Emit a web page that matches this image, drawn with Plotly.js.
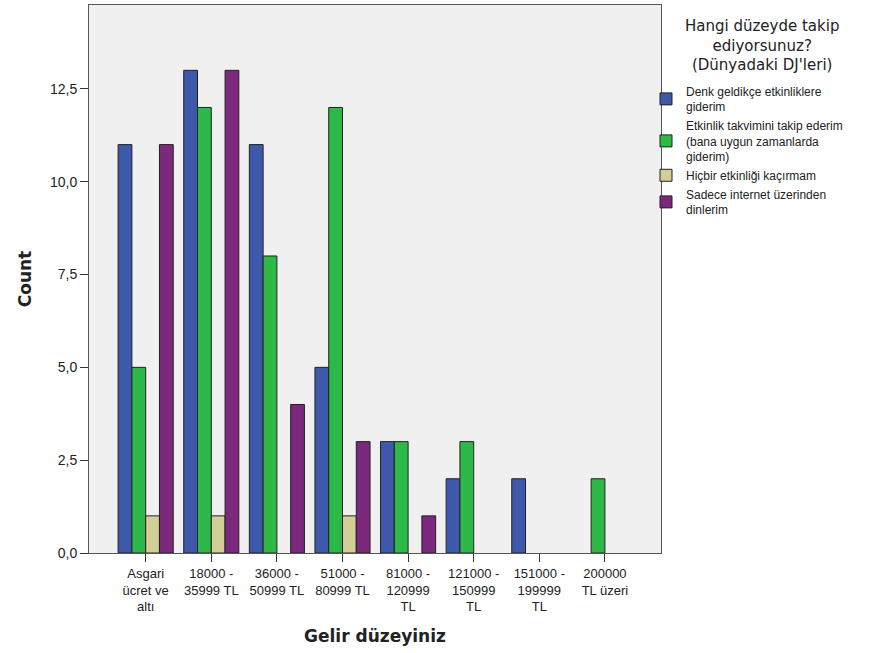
<!DOCTYPE html>
<html>
<head>
<meta charset="utf-8">
<script src="https://cdn.plot.ly/plotly-3.0.1.min.js"></script>
<style>html,body{margin:0;padding:0;background:#fff;}#chart{width:876px;height:653px;}</style>
</head>
<body>
<div id="chart"></div>
<script>
const categories = [
  "Asgari<br>ücret ve<br>altı",
  "18000 -<br>35999 TL",
  "36000 -<br>50999 TL",
  "51000 -<br>80999 TL",
  "81000 -<br>120999<br>TL",
  "121000 -<br>150999<br>TL",
  "151000 -<br>199999<br>TL",
  "200000<br>TL üzeri"
];
const legendTitle = "Hangi düzeyde takip<br>ediyorsunuz?<br>(Dünyadaki DJ'leri)";
const seriesNames = [
  "Denk geldikçe etkinliklere<br>giderim",
  "Etkinlik takvimini takip ederim<br>(bana uygun zamanlarda<br>giderim)",
  "Hiçbir etkinliği kaçırmam",
  "Sadece internet üzerinden<br>dinlerim"
];
const denkGeldikce = [11, 13, 11, 5, 3, 2, 2, 0];
const etkinlikTakvimi = [5, 12, 8, 12, 3, 3, 0, 2];
const hicbirKacirmam = [1, 1, 0, 1, 0, 0, 0, 0];
const sadeceInternet = [11, 13, 4, 3, 1, 0, 0, 0];
const colors = ["#3E58AC", "#2EB848", "#D3CE97", "#7C287D"];
const allSeries = [denkGeldikce, etkinlikTakvimi, hicbirKacirmam, sadeceInternet];

const xIdx = categories.map((c, i) => i);
const traces = allSeries.map((vals, k) => ({
  type: "bar",
  x: xIdx,
  // empty cells (count 0) are not drawn, as in the original
  y: vals.map(v => (v === 0 ? null : v)),
  name: seriesNames[k],
  marker: {color: colors[k], line: {color: "#222", width: 1}},
  hoverinfo: "y+name"
}));

const arial = "Arial, 'Liberation Sans', sans-serif";
const dejavu = "'DejaVu Sans', Verdana, sans-serif";
const layout = {
  width: 876, height: 653,
  margin: {l: 89, r: 215, t: 5, b: 100},
  paper_bgcolor: "#ffffff",
  plot_bgcolor: "#F0F0F0",
  separators: ",.",
  barmode: "group",
  bargap: 0.16,
  bargroupgap: 0,
  font: {family: arial, size: 12, color: "#222"},
  xaxis: {
    type: "linear",
    range: [-0.864, 7.855],
    tickmode: "array",
    tickvals: xIdx,
    ticktext: categories,
    tickangle: 0,
    ticks: "outside", ticklen: 8, tickcolor: "#333",
    showline: true, mirror: true, linecolor: "#555", linewidth: 1,
    showgrid: false, zeroline: false,
    tickfont: {size: 13, family: arial, color: "#222"},
    title: {text: "Gelir düzeyiniz", font: {size: 17, family: dejavu, color: "#222", weight: "bold"}, standoff: 16}
  },
  yaxis: {
    range: [0, 14.76],
    tickmode: "linear", tick0: 0, dtick: 2.5,
    tickformat: ".1f",
    ticks: "outside", ticklen: 8, tickcolor: "#333",
    showline: true, mirror: true, linecolor: "#555", linewidth: 1,
    showgrid: false, zeroline: false,
    tickfont: {size: 14, family: arial, color: "#222"},
    title: {text: "Count", font: {size: 17, family: dejavu, color: "#222", weight: "bold"}, standoff: 14}
  },
  showlegend: true,
  legend: {
    x: 0.9738, xanchor: "left", y: 0.869, yanchor: "top",
    bgcolor: "rgba(0,0,0,0)",
    itemwidth: 30,
    tracegroupgap: 0,
    font: {size: 12, family: arial, color: "#222"}
  },
  annotations: [{
    xref: "paper", yref: "paper",
    x: 1.1766, y: 0.981, xanchor: "center", yanchor: "top",
    text: legendTitle, showarrow: false, align: "center",
    font: {size: 15, family: dejavu, color: "#222"}
  }]
};

Plotly.newPlot("chart", traces, layout, {displayModeBar: false, staticPlot: true});
</script>
</body>
</html>
